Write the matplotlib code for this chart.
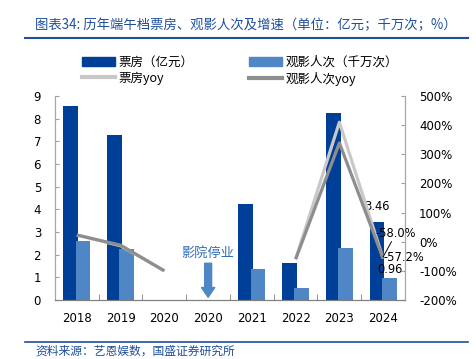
import numpy as np
import matplotlib
matplotlib.use("Agg")
import matplotlib.pyplot as plt
from matplotlib.lines import Line2D
from matplotlib.patches import Patch

CJK = ["Noto Sans CJK SC", "DejaVu Sans"]
plt.rcParams["font.family"] = CJK

# data
years = ["2018", "2019", "2020", "2020", "2021", "2022", "2023", "2024"]
box_office = [8.55, 7.29, 0, 0, 4.23, 1.65, 8.24, 3.46]          # 亿元
attendance = [2.61, 2.27, 0, 0, 1.36, 0.54, 2.29, 0.96]          # 千万次
box_yoy = [23, -14, -100, np.nan, np.nan, -60, 410, -58.0]       # %
att_yoy = [23, -12, -100, np.nan, np.nan, -60, 339, -57.2]       # %

DARK_BLUE = "#003F97"
LIGHT_BLUE = "#4F86C6"
LIGHT_GREY = "#C8C8C8"
DARK_GREY = "#8E8E8E"
TITLE_BLUE = "#1F4E9C"

W, H = 477, 359
fig = plt.figure(figsize=(W / 100, H / 100), dpi=100)
ax = fig.add_axes([55 / W, 1 - 300 / H, 350 / W, 204 / H])
ax2 = ax.twinx()

x = np.arange(len(years))
bw = 0.34
ax.bar(x - 0.14, box_office, width=bw, color=DARK_BLUE, zorder=2)
ax.bar(x + 0.14, attendance, width=bw, color=LIGHT_BLUE, zorder=3)

ax2.plot(x, box_yoy, color=LIGHT_GREY, lw=2.3, solid_capstyle="butt")
ax2.plot(x, att_yoy, color=DARK_GREY, lw=2.3, solid_capstyle="butt")

ax.set_xlim(-0.5, len(years) - 0.5)
ax.set_ylim(0, 9)
ax.set_yticks(range(0, 10))
ax2.set_ylim(-200, 500)
ax2.set_yticks(range(-200, 501, 100))
ax2.set_yticklabels([f"{v}%" for v in range(-200, 501, 100)])

ax.set_xticks(x)
ax.set_xticklabels(years)
ax.set_xticks(np.arange(-0.5, len(years)), minor=True)
ax.tick_params(axis="x", which="major", length=0, pad=9, labelsize=8.5)
ax.tick_params(axis="x", which="minor", length=4, direction="in", color="#808080")
ax.tick_params(axis="y", length=3, direction="in", color="#A0A0A0", pad=10, labelsize=8.5)
ax2.tick_params(axis="y", length=3, direction="in", color="#A0A0A0", pad=10, labelsize=8.5)
for a in (ax, ax2):
    for lab in a.get_xticklabels() + a.get_yticklabels():
        lab.set_fontfamily("DejaVu Sans")
    a.spines["top"].set_visible(False)
    a.spines["left"].set_color("#A6A6A6")
    a.spines["right"].set_color("#A6A6A6")
    a.spines["bottom"].set_color("#808080")

# data labels for 2024
ax.annotate("3.46", (7 - 0.14, box_office[7]), xytext=(0, 11), textcoords="offset points",
            ha="center", va="center", fontsize=8.3, family="DejaVu Sans")
ax.annotate("0.96", (7 + 0.16, attendance[7]), xytext=(0, 6), textcoords="offset points",
            ha="center", va="center", fontsize=8.3, family="DejaVu Sans")
ax2.text(7.0, att_yoy[7] + 3, "-57.2%", ha="left", va="center", fontsize=8.3, family="DejaVu Sans")
ax2.text(6.82, 29, "-58.0%", ha="left", va="center", fontsize=8.3, family="DejaVu Sans")
ax2.plot([7.0, 7.19], [-52, 0], color="black", lw=0.7)

# cinema closure note
ax.text(3, 2.07, "影院停业", ha="center", va="center", fontsize=9.5, color="#2E6DB4")
ax.annotate("", xy=(3, 0.12), xytext=(3, 1.62),
            arrowprops=dict(width=5, headwidth=9.5, headlength=7, color=LIGHT_BLUE, shrink=0))

handles = [
    Patch(color=DARK_BLUE, label="票房（亿元）"),
    Line2D([], [], color=LIGHT_GREY, lw=3, label="票房yoy"),
    Patch(color=LIGHT_BLUE, label="观影人次（千万次）"),
    Line2D([], [], color=DARK_GREY, lw=3, label="观影人次yoy"),
]
fig.legend(handles=handles, loc="upper left", bbox_to_anchor=(82 / W, 1 - 56 / H), ncol=2,
           frameon=False, fontsize=9, handlelength=2.64, handletextpad=0.25,
           columnspacing=4.5, labelspacing=0.2, borderpad=0, borderaxespad=0)

# header / footer
fig.text(35 / W, 1 - 25 / H, "图表34: 历年端午档票房、观影人次及增速（单位：亿元；千万次；%）",
         ha="left", va="center", fontsize=9.6, color=TITLE_BLUE)
fig.add_artist(Line2D([25 / W, 468 / W], [1 - 38 / H] * 2, color=TITLE_BLUE, lw=1.5))
fig.add_artist(Line2D([25 / W, 468 / W], [1 - 341.5 / H] * 2, color=TITLE_BLUE, lw=1.2))
fig.text(35 / W, 1 - 351 / H, "资料来源：艺恩娱数，国盛证券研究所",
         ha="left", va="center", fontsize=8.5, color=TITLE_BLUE)

fig.savefig("out.png", dpi=100)
